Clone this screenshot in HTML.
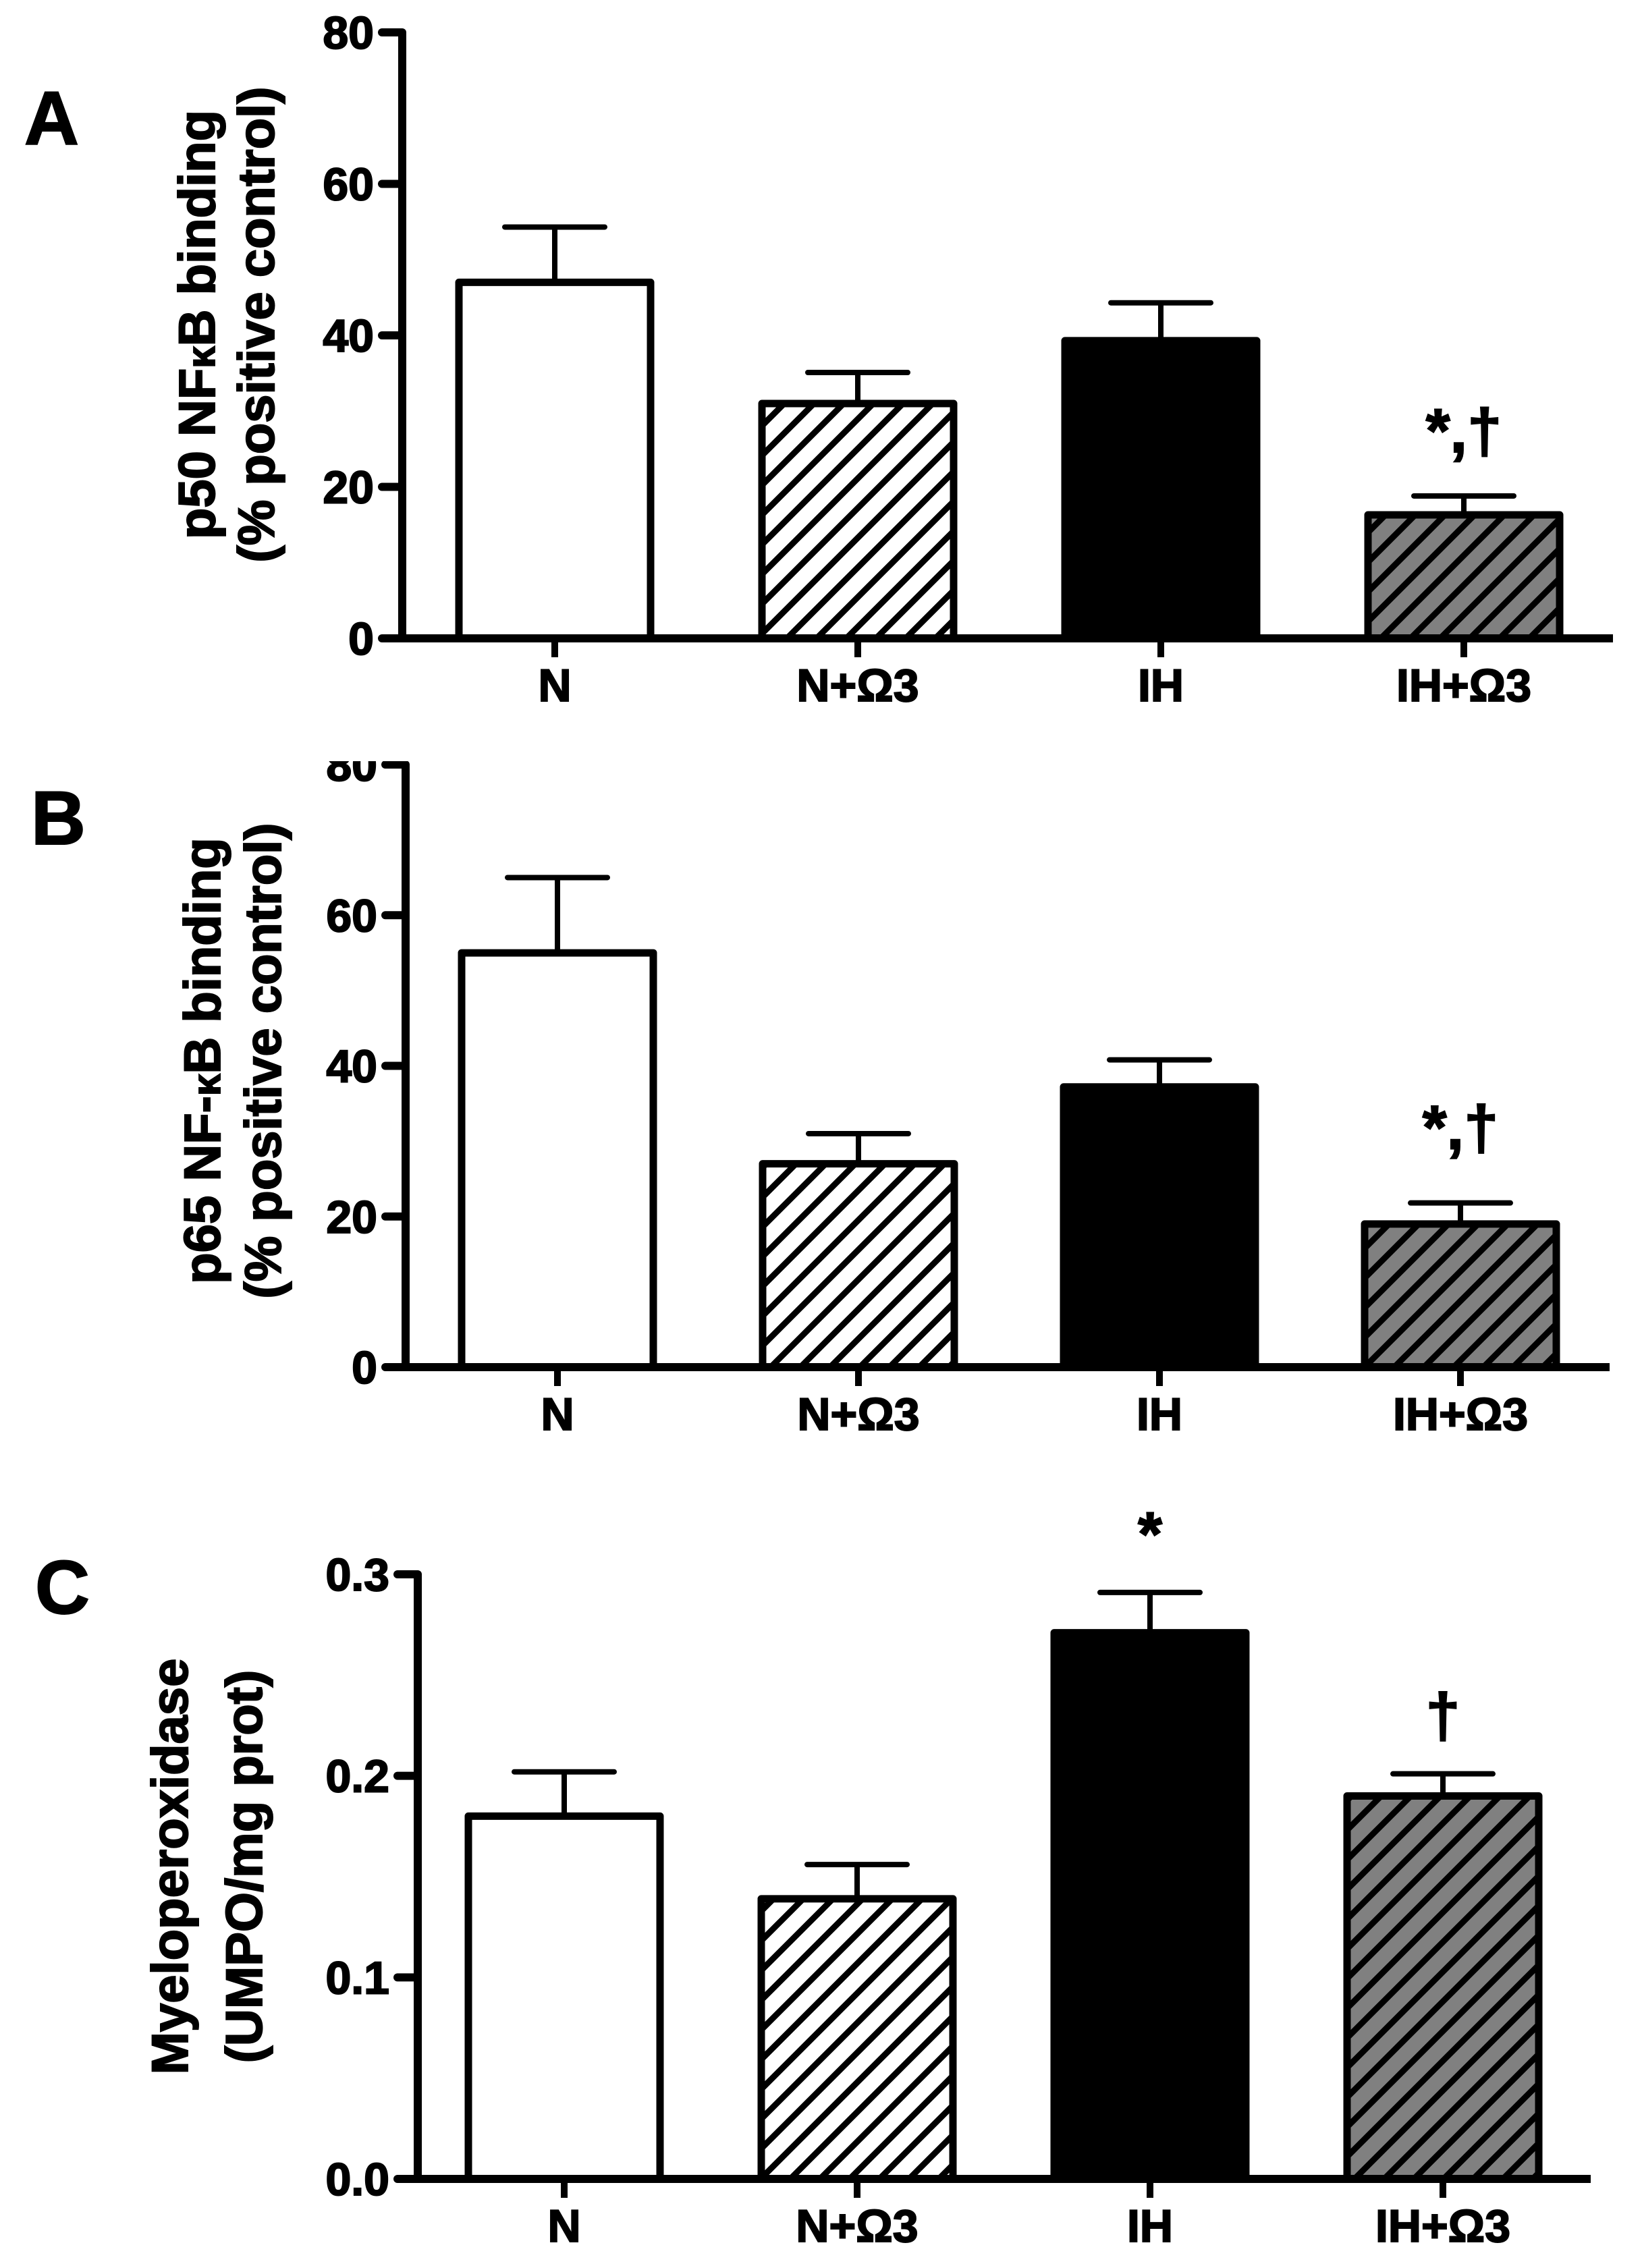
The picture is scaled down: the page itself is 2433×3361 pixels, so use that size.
<!DOCTYPE html>
<html><head><meta charset="utf-8"><style>
html,body{margin:0;padding:0;background:#fff;}
svg{display:block;font-family:"Liberation Sans",sans-serif;font-weight:bold;}
text{stroke:#000;stroke-width:2px;}
</style></head><body>
<svg id="fig" width="2433" height="3361" viewBox="0 0 2433 3361" xmlns="http://www.w3.org/2000/svg">
<defs>
<pattern id="hatchW" patternUnits="userSpaceOnUse" width="44" height="44">
<rect width="44" height="44" fill="#fff"/>
<path d="M-11,11 L11,-11 M0,44 L44,0 M33,55 L55,33" stroke="#000" stroke-width="9"/>
</pattern>
<pattern id="hatchG" patternUnits="userSpaceOnUse" width="44" height="44">
<rect width="44" height="44" fill="#808080"/>
<path d="M-11,11 L11,-11 M0,44 L44,0 M33,55 L55,33" stroke="#000" stroke-width="9"/>
</pattern>
<clipPath id="clipB"><rect x="0" y="1128" width="2433" height="1200"/></clipPath>
</defs>
<g id="root"></g>
</svg>
<script>
const categories = ["N", "N+Ω3", "IH", "IH+Ω3"];
const valuesA = [47, 31, 39.3, 16.3];
const errorsA = [7.3, 4.1, 5.0, 2.5];
const valuesB = [55, 27, 37.2, 19];
const errorsB = [10, 4, 3.6, 2.8];
const valuesC = [0.180, 0.139, 0.271, 0.190];
const errorsC = [0.022, 0.017, 0.020, 0.011];
const ticksA = [0, 20, 40, 60, 80];
const ticksB = [0, 20, 40, 60, 80];
const ticksC = [0, 0.1, 0.2, 0.3];
const tickLabelsA = ["0", "20", "40", "60", "80"];
const tickLabelsB = ["0", "20", "40", "60", "80"];
const tickLabelsC = ["0.0", "0.1", "0.2", "0.3"];
const annotA = ["", "", "", "*,†"];
const annotB = ["", "", "", "*,†"];
const annotC = ["", "", "*", "†"];

const NS = "http://www.w3.org/2000/svg";
const root = document.getElementById("root");
function mk(tag, attrs, parent) {
  const e = document.createElementNS(NS, tag);
  for (const k in attrs) e.setAttribute(k, attrs[k]);
  (parent || root).appendChild(e);
  return e;
}
const fills = ["#fff", "url(#hatchW)", "#000", "url(#hatchG)"];

function panel(p) {
  const g = mk("g", {});
  
  
  const y = v => p.zeroY - (v / p.max) * (p.zeroY - p.topY);
  const cx = i => p.x0 + i * p.step;
  const gl = mk("g", p.clip ? {"clip-path": "url(#" + p.clip + ")"} : {}, g);
  p.ticks.forEach((t, i) => {
    const tk = mk("line", {x1: p.axisX - 30, x2: p.axisX, y1: y(t), y2: y(t), stroke: "#000", "stroke-width": 12, "stroke-linecap": "round"}, gl);
    
    
    const tl = mk("text", {x: p.axisX - 42, y: y(t) + 24, "text-anchor": "end", "font-size": 68}, gl);
    tl.textContent = p.tickLabels[i];
    
    
  });
  p.values.forEach((v, i) => {
    const c = cx(i);
    const top = y(v + p.errors[i]);
    const wl = mk("line", {x1: c, x2: c, y1: y(v), y2: top, stroke: "#000", "stroke-width": 8}, g);
    
    
    const cap = mk("line", {x1: c - 74, x2: c + 74, y1: top, y2: top, stroke: "#000", "stroke-width": 8, "stroke-linecap": "round"}, g);
    
    
    const r = mk("rect", {x: c - 142, y: y(v), width: 284, height: p.zeroY - y(v), fill: fills[i], stroke: "#000", "stroke-width": 11, "stroke-linejoin": "round"}, g);
    
    
    const xt = mk("line", {x1: c, x2: c, y1: p.zeroY, y2: p.zeroY + 28, stroke: "#000", "stroke-width": 10}, g);
    
    
    const xl = mk("text", {x: c, y: p.zeroY + 93, "text-anchor": "middle", "font-size": 68}, g);
    xl.textContent = categories[i];
    
    
    if (p.annot[i]) {
      const an = mk("text", {x: c, y: top - p.annOff, "text-anchor": "middle", "font-size": 92}, g);
      an.textContent = p.annot[i];
      
      
    }
  });
  const ya = mk("line", {x1: p.axisX, x2: p.axisX, y1: p.topY, y2: p.zeroY + 6, stroke: "#000", "stroke-width": 12}, g);
  
  
  const xa = mk("line", {x1: p.axisX - 30, x2: p.xEnd, y1: p.zeroY, y2: p.zeroY, stroke: "#000", "stroke-width": 12}, g);
  
  
  p.title.forEach((t, k) => {
    const tt = mk("text", {transform: "translate(" + p.titleX[k] + "," + p.titleY + ") rotate(-90)", "text-anchor": "middle", "font-size": 76}, g);
    tt.innerHTML = t;
    
    
  });
  const pl = mk("text", {x: p.letterX, y: p.letterY, "font-size": 112}, g);
  pl.textContent = p.letter;
  
  
}

panel({name: "panel-a", axisX: 596, zeroY: 946, topY: 48, max: 80, ticks: ticksA, tickLabels: tickLabelsA,
  values: valuesA, errors: errorsA, annot: annotA, annOff: 65, x0: 822, step: 449, xEnd: 2390,
  title: ['p50 NF<tspan font-size="58">κ</tspan>B binding', '(% positive control)'], titleX: [318, 406], titleY: 481,
  letter: "A", letterX: 36, letterY: 214});
panel({name: "panel-b", axisX: 601, zeroY: 2026, topY: 1133, max: 80, ticks: ticksB, tickLabels: tickLabelsB, clip: "clipB",
  values: valuesB, errors: errorsB, annot: annotB, annOff: 80, x0: 826, step: 446, xEnd: 2385,
  title: ['p65 NF-<tspan font-size="58">κ</tspan>B binding', '(% positive control)'], titleX: [326, 416], titleY: 1572,
  letter: "B", letterX: 46, letterY: 1251});
panel({name: "panel-c", axisX: 619, zeroY: 3229, topY: 2333, max: 0.3, ticks: ticksC, tickLabels: tickLabelsC,
  values: valuesC, errors: errorsC, annot: annotC, annOff: 55, x0: 836, step: 434, xEnd: 2357,
  title: ['Myeloperoxidase', '(UMPO/mg prot)'], titleX: [278, 388], titleY: 2766,
  letter: "C", letterX: 52, letterY: 2391});
</script>
</body></html>
